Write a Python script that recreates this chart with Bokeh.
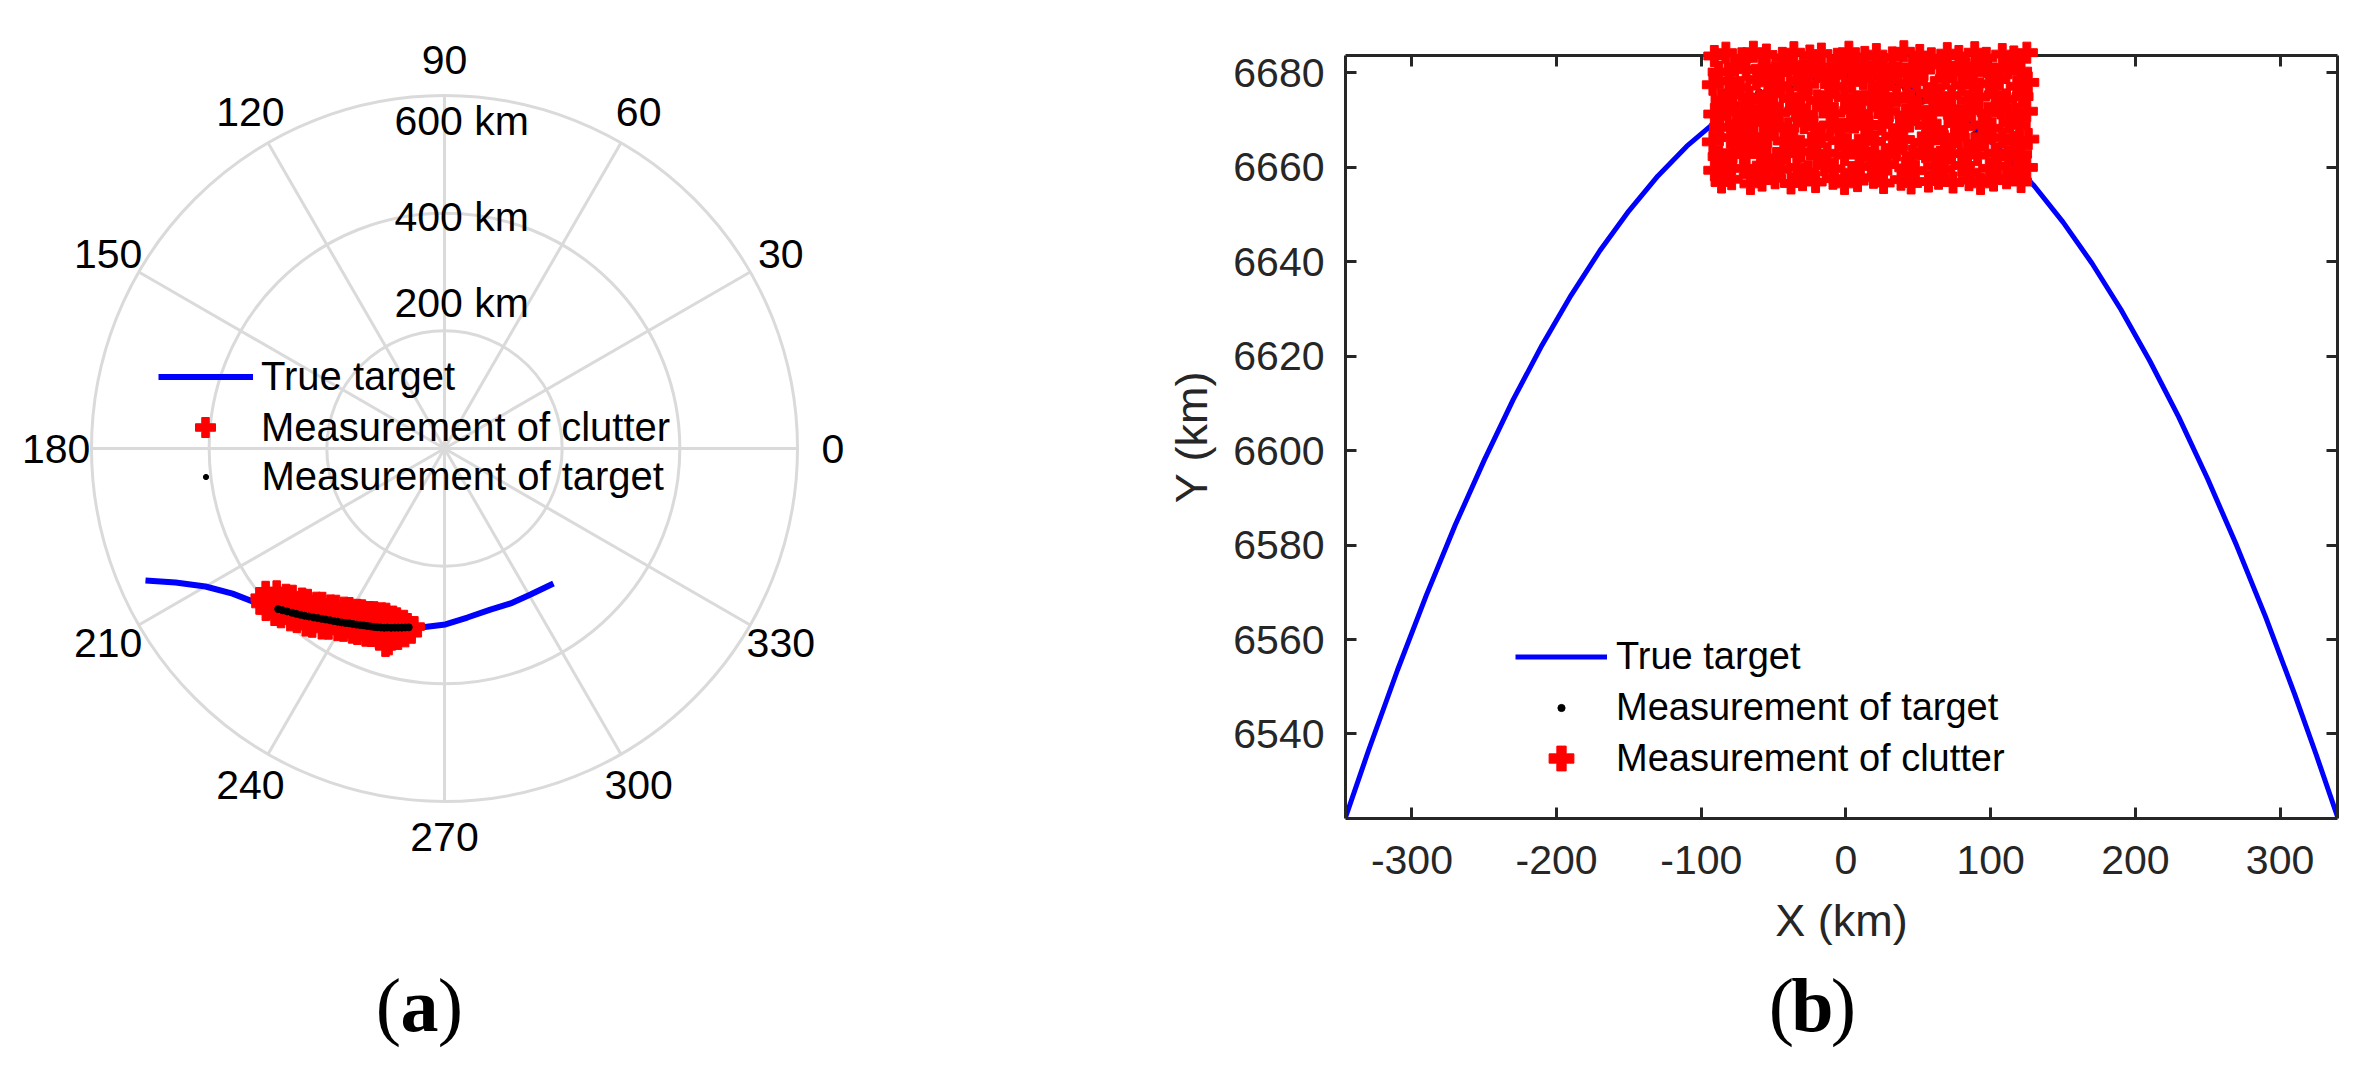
import numpy as np
from bokeh.plotting import figure
from bokeh.models import (Range1d, LinearAxis, FixedTicker, Legend, LegendItem,
                          CustomJSTickFormatter)
from bokeh.layouts import row
from bokeh.embed import file_html
from bokeh.resources import INLINE
from bokeh.core.properties import value

# ======================= DATA =======================
# ---- (a) polar panel ----
angle_ticks_a = [0, 30, 60, 90, 120, 150, 180, 210, 240, 270, 300, 330]
ring_ticks_km = [200, 400, 600]
ring_tick_labels = ["200 km", "400 km", "600 km"]

true_theta_a = [203.8, 206.5, 210.0, 214.4, 219.6, 224.6, 231.4, 239.0, 247.3,
                256.2, 262.4, 270.3, 277.7, 285.9, 293.1, 300.5, 308.9]
true_rho_a = [555.5, 510.8, 469.1, 436.6, 412.8, 391.9, 365.3, 343.1, 326.0,
              313.4, 307.0, 299.1, 289.9, 284.7, 286.4, 288.1, 295.0]

target_theta_a = [224.0, 225.0, 226.0, 227.1, 228.1, 229.1, 230.1, 231.1, 232.2,
                  233.2, 234.2, 235.2, 236.3, 237.3, 238.3, 239.4, 240.4, 241.4,
                  242.4, 243.5, 244.5, 245.5, 246.5, 247.5, 248.5, 249.4, 250.4,
                  251.4, 252.3, 253.4, 254.5, 255.5, 256.6, 257.6, 258.7]
target_rho_a = [393.0, 389.0, 385.0, 381.0, 377.5, 374.0, 370.5, 367.0, 363.5,
                360.0, 357.0, 354.0, 351.0, 348.5, 346.0, 343.5, 341.0, 338.5,
                336.5, 334.5, 332.5, 330.5, 329.0, 327.5, 326.0, 324.5, 323.0,
                321.5, 319.5, 318.0, 316.0, 314.5, 313.0, 311.5, 310.0]

clutter_theta_a = [218.6, 219.1,
                   220.3, 220.8, 220.4,
                   222.6, 222.1, 222.7, 222.2,
                   224.0, 224.6, 224.2, 224.5,
                   226.4, 225.9, 226.5, 226.0,
                   227.8, 228.3, 227.7, 228.2,
                   230.2, 229.6, 230.1, 229.7,
                   231.5, 232.1, 231.6, 232.0,
                   233.9, 233.4, 234.0, 233.5,
                   235.3, 235.9, 235.4, 235.8,
                   237.7, 237.2, 237.8, 237.3,
                   239.1, 239.7, 239.2, 239.6,
                   241.5, 241.0, 241.6, 241.1,
                   242.9, 243.5, 243.0, 243.4,
                   245.3, 244.8, 245.4, 244.9,
                   246.7, 247.3, 246.8, 247.2,
                   249.1, 248.6, 249.2, 248.7,
                   250.5, 251.1, 250.6, 251.0,
                   252.9, 252.4, 253.0, 252.5, 253.4,
                   254.3, 254.9, 254.4, 254.8, 254.1,
                   256.7, 256.2, 256.8, 256.3,
                   258.1, 258.6, 258.2,
                   260.4, 259.9]
clutter_rho_a = [389, 402,
                 374, 392, 408,
                 366, 383, 399, 410,
                 359, 376, 393, 405,
                 351, 369, 385, 400,
                 346, 362, 380, 393,
                 340, 356, 372, 388,
                 334, 350, 367, 383,
                 329, 345, 361, 378,
                 324, 339, 356, 371,
                 319, 334, 348, 365,
                 315, 328, 344, 359,
                 311, 326, 341, 355,
                 308, 321, 337, 351,
                 305, 318, 333, 349,
                 302, 316, 330, 346,
                 299, 312, 328, 343,
                 297, 311, 325, 342,
                 298, 310, 323, 339, 351,
                 299, 311, 322, 336, 347,
                 300, 313, 324, 334,
                 304, 315, 327,
                 307, 319]

# ---- (b) Cartesian panel ----
x_ticks_b = [-300, -200, -100, 0, 100, 200, 300]
y_ticks_b = [6540, 6560, 6580, 6600, 6620, 6640, 6660, 6680]
x_lim_b = (-345.9, 339.7)
y_lim_b = (6522.1, 6683.7)

true_x_b = [-346, -330, -310, -290, -270, -250, -230, -210, -190, -170, -150, -130,
            -110, -90, -70, -50, -30, -10, 10, 30, 50, 70, 90, 110, 130, 150, 170,
            190, 210, 230, 250, 270, 290, 310, 325, 340]
true_y_b = [6522.2, 6536.5, 6553.5, 6569.4, 6584.3, 6598.0, 6610.8, 6622.4, 6632.9,
            6642.4, 6650.8, 6658.2, 6664.5, 6669.7, 6673.8, 6676.8, 6678.8, 6679.7,
            6679.6, 6678.3, 6676.0, 6672.7, 6668.2, 6662.7, 6656.1, 6648.4, 6639.7,
            6629.9, 6619.0, 6607.1, 6594.0, 6579.9, 6564.8, 6548.5, 6535.6, 6522.2]

target_x_b = [-75, -67, -60, -50, -38, -28, -20, -10, 0, 10, 19, 26, 34, 41, 47,
              53, 62, 70, 78, 84, 89, 97, 100]
target_y_b = [6673.0, 6675.5, 6675.9, 6676.4, 6676.6, 6678.0, 6678.6, 6679.3, 6679.6,
              6679.8, 6679.2, 6678.7, 6677.6, 6676.9, 6675.6, 6674.1, 6673.2, 6671.6,
              6670.2, 6669.0, 6666.9, 6666.4, 6665.8]

clutter_x_b = [
    -91, -83, -72, -64, -55, -44, -36, -25, -17, -6, 2, 13, 21, 32, 40, 51, 59, 70, 78, 89, 97, 108, 116, 125,
    -88, -77, -69, -58, -49, -40, -30, -21, -11, -2, 7, 17, 26, 36, 46, 54, 65, 74, 83, 93, 102, 112, 121,
    -92, -81, -73, -62, -54, -45, -34, -26, -15, -7, 4, 12, 23, 31, 42, 49, 61, 69, 80, 88, 99, 106, 118, 126,
    -86, -78, -67, -59, -50, -39, -31, -20, -12, -1, 8, 18, 27, 35, 45, 56, 64, 73, 84, 92, 103, 111, 122,
    -91, -82, -72, -63, -53, -46, -35, -27, -16, -8, 3, 11, 22, 30, 41, 50, 60, 70, 79, 87, 98, 107, 117, 125,
    -87, -76, -68, -57, -50, -40, -29, -22, -11, -3, 6, 16, 25, 37, 44, 55, 63, 75, 82, 94, 101, 113, 120,
    -92, -80, -73, -64, -54, -43, -36, -24, -17, -5, 1, 13, 20, 32, 40, 52, 58, 68, 78, 89, 96, 108, 116, 126,
    -88, -78, -69, -59, -48, -41, -31, -20, -13, -1, 9, 17, 27, 35, 46, 55, 65, 73, 84, 91, 103, 112, 121,
    -91, -83, -71, -62, -55, -45, -34, -26, -15, -8, 4, 10, 22, 29, 41, 48, 61, 68, 80, 86, 99, 105, 118, 125,
    -86, -79, -66, -58, -49, -38, -30, -21, -9, -1, 8, 19, 26, 38, 45, 57, 64, 74, 85, 93, 102, 111, 121,
]
clutter_y_b = [
    6683.6, 6684.3, 6683.1, 6684.5, 6683.9, 6683.2, 6684.4, 6683.7, 6684.1, 6683.0, 6684.5, 6683.4,
    6684.0, 6683.3, 6684.6, 6683.8, 6683.1, 6684.2, 6683.6, 6684.4, 6683.2, 6684.0, 6683.5, 6684.3,
    6680.2, 6681.4, 6680.7, 6681.0, 6680.1, 6681.5, 6680.5, 6681.2, 6679.9, 6680.9, 6681.6, 6680.3,
    6681.1, 6680.0, 6681.3, 6680.6, 6681.7, 6680.2, 6680.8, 6681.4, 6679.9, 6681.0, 6680.4,
    6677.5, 6678.3, 6677.0, 6678.6, 6677.9, 6677.2, 6678.4, 6677.6, 6678.9, 6677.1, 6678.0, 6678.7,
    6677.3, 6678.5, 6677.8, 6678.2, 6677.0, 6678.8, 6677.4, 6678.1, 6677.7, 6678.6, 6677.2, 6678.0,
    6674.4, 6675.3, 6674.9, 6674.1, 6675.6, 6674.6, 6675.0, 6674.2, 6675.4, 6674.8, 6674.0, 6675.5,
    6674.5, 6675.1, 6674.3, 6675.7, 6674.7, 6675.2, 6674.1, 6674.9, 6675.4, 6674.4, 6675.0,
    6671.3, 6672.2, 6671.8, 6671.0, 6672.5, 6671.6, 6672.0, 6671.2, 6672.7, 6671.5, 6672.1, 6671.4,
    6672.6, 6671.9, 6671.1, 6672.3, 6671.7, 6672.4, 6671.0, 6672.0, 6671.6, 6672.5, 6671.3, 6671.9,
    6668.5, 6669.2, 6668.1, 6669.6, 6668.8, 6668.3, 6669.4, 6668.6, 6669.0, 6668.2, 6669.5, 6668.7,
    6669.1, 6668.4, 6669.7, 6668.9, 6668.0, 6669.3, 6668.6, 6669.0, 6668.3, 6669.5, 6668.8,
    6665.4, 6666.3, 6665.8, 6665.1, 6666.5, 6665.6, 6666.0, 6665.2, 6666.4, 6665.7, 6665.0, 6666.2,
    6665.5, 6666.6, 6665.9, 6665.3, 6666.1, 6665.6, 6666.4, 6665.1, 6665.8, 6666.3, 6665.4, 6666.0,
    6662.3, 6663.1, 6662.7, 6663.5, 6662.0, 6662.9, 6663.3, 6662.4, 6663.0, 6662.6, 6663.4, 6662.1,
    6662.8, 6663.6, 6662.5, 6663.2, 6662.2, 6662.9, 6663.4, 6662.6, 6663.0, 6662.3, 6662.8,
    6659.4, 6660.3, 6659.8, 6659.1, 6660.5, 6659.6, 6660.0, 6659.2, 6660.4, 6659.7, 6659.0, 6660.2,
    6659.5, 6660.6, 6659.9, 6659.3, 6660.1, 6659.6, 6660.4, 6659.0, 6659.8, 6660.3, 6659.4, 6660.0,
    6656.8, 6657.5, 6656.5, 6657.2, 6657.7, 6656.6, 6657.3, 6656.9, 6657.6, 6656.5, 6657.1, 6657.8,
    6656.7, 6657.4, 6656.6, 6657.0, 6657.6, 6656.8, 6657.3, 6656.5, 6657.2, 6657.7, 6656.9,
]

# ======================= STYLE / LAYOUT =======================
FONT = "Liberation Sans"
SERIF = "Liberation Serif"
GRID = "#DADADA"
AXC = "#262626"
BLUE = "#0000FF"
RED = "#FF0000"

H = 1059
FRAME_TOP, FRAME_BOTTOM = 55, 818      # shared plot-frame rows (page px)
BORDER_TOP, BORDER_BOTTOM = FRAME_TOP, H - FRAME_BOTTOM
CAPTION_BASELINE = 1004                # page px


def polar_xy(theta_deg, rho):
    t = np.deg2rad(np.asarray(theta_deg, dtype=float))
    r = np.asarray(rho, dtype=float)
    return r * np.cos(t), r * np.sin(t)


def one_legend(p, renderer, label, loc, gw, gh, standoff, fs):
    leg = Legend(items=[LegendItem(label=label, renderers=[renderer])],
                 location=loc, glyph_width=int(gw), glyph_height=int(gh),
                 label_standoff=int(standoff), padding=0, margin=0, spacing=0,
                 border_line_color=None, background_fill_alpha=0,
                 label_text_font=FONT, label_text_font_size=fs,
                 label_text_color="black")
    p.add_layout(leg)


def caption(p, x, y, letter):
    p.text(x=[x], y=[y], text=[letter], text_font=value(SERIF), text_font_size="76px",
           text_font_style="bold", text_align="center", text_baseline="alphabetic",
           text_color="black", level="overlay")
    p.text(x=[x, x], y=[y, y], text=["(", ")"], x_offset=[-31, 31],
           text_font=value(SERIF), text_font_size="76px", text_align="center",
           text_baseline="alphabetic", text_color="black", level="overlay")


# ======================= (a) POLAR =======================
K = 600.0 / 353.0          # km per pixel
W1 = 1150
PX, PY = 444, 448           # page position of the pole
p1 = figure(width=W1, height=H, output_backend="svg", toolbar_location=None,
            x_range=Range1d(-PX * K, (W1 - PX) * K),
            y_range=Range1d((PY - FRAME_BOTTOM) * K, (PY - FRAME_TOP) * K),
            x_axis_type=None, y_axis_type=None,
            min_border_left=0, min_border_right=0,
            min_border_top=BORDER_TOP, min_border_bottom=BORDER_BOTTOM,
            outline_line_color=None)

rmax = ring_ticks_km[-1]
ang = np.deg2rad(angle_ticks_a)
p1.circle(x=[0] * len(ring_ticks_km), y=[0] * len(ring_ticks_km), radius=ring_ticks_km,
          fill_color=None, line_color=GRID, line_width=3)
p1.segment(x0=np.zeros(len(ang)), y0=np.zeros(len(ang)),
           x1=rmax * np.cos(ang), y1=rmax * np.sin(ang),
           line_color=GRID, line_width=3)
p1.text(x=1.1 * rmax * np.cos(ang), y=1.1 * rmax * np.sin(ang),
        text=[str(a) for a in angle_ticks_a], text_font=value(FONT),
        text_font_size="41px", text_align="center", text_baseline="middle",
        text_color="black", level="overlay")
ring_label_x = [-85, -85, -85]
ring_label_y = [248, 394, 557]
p1.text(x=ring_label_x, y=ring_label_y, text=ring_tick_labels, text_font=value(FONT),
        text_font_size="41px", text_align="left", text_baseline="middle",
        text_color="black", level="overlay")

tx, ty = polar_xy(true_theta_a, true_rho_a)
ra_true = p1.line(tx, ty, line_color=BLUE, line_width=6)
cxa, cya = polar_xy(clutter_theta_a, clutter_rho_a)
ra_clut = p1.scatter(cxa, cya, marker="plus", size=20, fill_color=RED,
                     line_color=RED, line_width=1)
gxa, gya = polar_xy(target_theta_a, target_rho_a)
ra_targ = p1.scatter(gxa, gya, marker="circle", size=7, fill_color="black",
                     line_color="black")

one_legend(p1, ra_true, "True target", (158, FRAME_BOTTOM - 398.5), 95, 45, 8, "40px")
one_legend(p1, ra_clut, "Measurement of clutter", (180, FRAME_BOTTOM - 452), 50, 50, 31, "40px")
one_legend(p1, ra_targ, "Measurement of target", (198.5, FRAME_BOTTOM - 498.5), 13, 45, 50, "40px")

caption(p1, (419 - PX) * K, (PY - CAPTION_BASELINE) * K, "a")

# ======================= (b) CARTESIAN =======================
W2 = 1207
P2_LEFT = W1
AX_LEFT, AX_RIGHT = 1345, 2337
p2 = figure(width=W2, height=H, output_backend="svg", toolbar_location=None,
            x_range=Range1d(*x_lim_b), y_range=Range1d(*y_lim_b),
            min_border_left=AX_LEFT - P2_LEFT, min_border_right=P2_LEFT + W2 - AX_RIGHT,
            min_border_top=BORDER_TOP, min_border_bottom=BORDER_BOTTOM,
            outline_line_color=None)
p2.grid.visible = False


def style_axis(ax, ticks):
    ax.ticker = FixedTicker(ticks=ticks)
    ax.axis_line_color = AXC
    ax.axis_line_width = 3
    ax.major_tick_line_color = AXC
    ax.major_tick_line_width = 3
    ax.major_tick_in = 11
    ax.major_tick_out = 0
    ax.minor_tick_line_color = None
    ax.major_label_text_font = FONT
    ax.major_label_text_font_size = "41px"
    ax.major_label_text_color = AXC


xb = p2.xaxis[0]
yb = p2.yaxis[0]
style_axis(xb, x_ticks_b)
style_axis(yb, y_ticks_b)
xb.formatter = CustomJSTickFormatter(code="return tick.toFixed(0)")
xb.major_label_standoff = 27
yb.major_label_standoff = 21
xb.axis_label = "X (km)"
yb.axis_label = "Y (km)"
for ax, so in ((xb, 18), (yb, 13)):
    ax.axis_label_text_font = FONT
    ax.axis_label_text_font_size = "45px"
    ax.axis_label_text_font_style = "normal"
    ax.axis_label_text_color = AXC
    ax.axis_label_standoff = so

blank = CustomJSTickFormatter(code="return ''")
top_ax = LinearAxis(formatter=blank)
style_axis(top_ax, x_ticks_b)
top_ax.major_label_standoff = 0
top_ax.major_label_text_font_size = "1px"
p2.add_layout(top_ax, "above")
right_ax = LinearAxis(formatter=blank)
style_axis(right_ax, y_ticks_b)
right_ax.major_label_standoff = 0
right_ax.major_label_text_font_size = "1px"
p2.add_layout(right_ax, "right")

rb_true = p2.line(true_x_b, true_y_b, line_color=BLUE, line_width=5)
rb_targ = p2.scatter(target_x_b, target_y_b, marker="circle", size=7,
                     fill_color="black", line_color="black")
rb_clut = p2.scatter(clutter_x_b, clutter_y_b, marker="plus", size=21,
                     fill_color=RED, line_color=RED, line_width=1, level="overlay")

one_legend(p2, rb_true, "True target", (170, 139.5), 92, 45, 9, "38px")
one_legend(p2, rb_targ, "Measurement of target", (207, 88.5), 18, 45, 46, "38px")
one_legend(p2, rb_clut, "Measurement of clutter", (185, 29), 62, 62, 24, "38px")

# caption position converted from page px to data units of panel (b)
xs_b = (AX_RIGHT - AX_LEFT) / (x_lim_b[1] - x_lim_b[0])
ys_b = (FRAME_BOTTOM - FRAME_TOP) / (y_lim_b[1] - y_lim_b[0])
caption(p2, x_lim_b[0] + (1812 - AX_LEFT) / xs_b,
        y_lim_b[0] - (CAPTION_BASELINE - FRAME_BOTTOM) / ys_b, "b")

layout = row(p1, p2)
open("out.html", "w").write(file_html(layout, INLINE))
